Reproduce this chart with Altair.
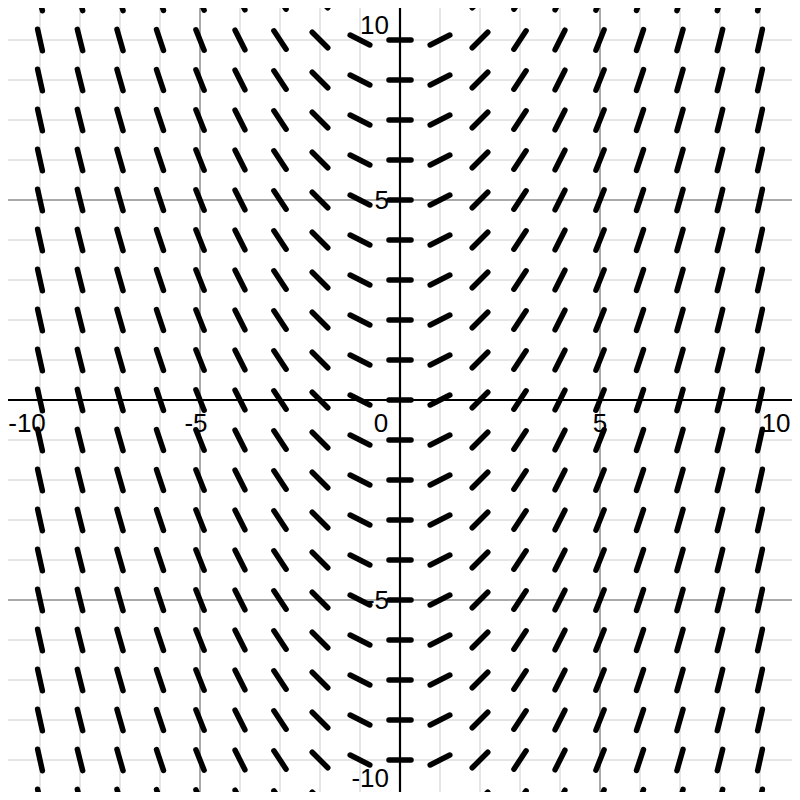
import altair as alt
import pandas as pd

# Slope field dy/dx: slope of each column of segments
col_x = [-10, -9, -8, -7, -6, -5, -4, -3, -2, -1, 0, 1, 2, 3, 4, 5, 6, 7, 8, 9, 10]
col_slope = [-5.0, -4.5, -4.0, -3.5, -3.0, -2.5, -2.0, -1.5, -1.0, -0.5, 0.0,
             0.5, 1.0, 1.5, 2.0, 2.5, 3.0, 3.5, 4.0, 4.5, 5.0]
row_y = [-10, -9, -8, -7, -6, -5, -4, -3, -2, -1, 0, 1, 2, 3, 4, 5, 6, 7, 8, 9, 10]

minor_grid = [-9, -8, -7, -6, -4, -3, -2, -1, 1, 2, 3, 4, 6, 7, 8, 9]
major_grid = [-10, -5, 5, 10]

x_tick_vals = [-10, -5, 0, 5, 10]
x_tick_text = ["-10", "-5", "0", "5", "10"]
y_tick_vals = [10, 5, -5, -10]
y_tick_text = ["10", "5", "-5", "-10"]

rows = []
for xv, s in zip(col_x, col_slope):
    for yv in row_y:
        rows.append({"x": xv, "y": yv, "m": s})
seg_df = pd.DataFrame(rows)

xs = alt.Scale(domain=[-9.8, 9.8], nice=False, zero=False)
ys = alt.Scale(domain=[-9.8, 9.8], nice=False, zero=False)

minor_v = alt.Chart(pd.DataFrame({"v": minor_grid})).mark_rule(
    color="#cccccc", strokeWidth=1, clip=True).encode(x=alt.X("v:Q", scale=xs, axis=None))
minor_h = alt.Chart(pd.DataFrame({"v": minor_grid})).mark_rule(
    color="#cccccc", strokeWidth=1, clip=True).encode(y=alt.Y("v:Q", scale=ys, axis=None))
major_v = alt.Chart(pd.DataFrame({"v": major_grid})).mark_rule(
    color="#8c8c8c", strokeWidth=1.5, clip=True).encode(x=alt.X("v:Q", scale=xs, axis=None))
major_h = alt.Chart(pd.DataFrame({"v": major_grid})).mark_rule(
    color="#8c8c8c", strokeWidth=1.5, clip=True).encode(y=alt.Y("v:Q", scale=ys, axis=None))
axis_v = alt.Chart(pd.DataFrame({"v": [0]})).mark_rule(
    color="#000000", strokeWidth=2.2).encode(x=alt.X("v:Q", scale=xs, axis=None))
axis_h = alt.Chart(pd.DataFrame({"v": [0]})).mark_rule(
    color="#000000", strokeWidth=2.2).encode(y=alt.Y("v:Q", scale=ys, axis=None))

L = 0.275
segs = alt.Chart(seg_df).transform_calculate(
    d=f"{L} / sqrt(1 + datum.m * datum.m)"
).transform_calculate(
    x1="datum.x - datum.d", x2="datum.x + datum.d",
    y1="datum.y - datum.m * datum.d", y2="datum.y + datum.m * datum.d"
).mark_rule(color="#000000", strokeWidth=5.5, strokeCap="round", clip=True).encode(
    x=alt.X("x1:Q", scale=xs, axis=None), x2="x2:Q",
    y=alt.Y("y1:Q", scale=ys, axis=None), y2="y2:Q")

FONT = "Liberation Sans"
FS = 26

def xlabel(i, dx):
    return alt.Chart(pd.DataFrame({"v": [x_tick_vals[i]], "z": [0], "t": [x_tick_text[i]]})).mark_text(
        font=FONT, fontSize=FS, color="#000000", align="center", baseline="alphabetic",
        dx=dx, dy=32).encode(
        x=alt.X("v:Q", scale=xs, axis=None), y=alt.Y("z:Q", scale=ys, axis=None), text="t:N")

def ylabel(i, dy):
    return alt.Chart(pd.DataFrame({"v": [y_tick_vals[i]], "z": [0], "t": [y_tick_text[i]]})).mark_text(
        font=FONT, fontSize=FS, color="#000000", align="right", baseline="alphabetic",
        dx=-11, dy=dy).encode(
        y=alt.Y("v:Q", scale=ys, axis=None), x=alt.X("z:Q", scale=xs, axis=None), text="t:N")

labels = [
    xlabel(0, 27), xlabel(1, -4), xlabel(2, -19), xlabel(3, 0), xlabel(4, -24),
    ylabel(0, 34), ylabel(1, 9), ylabel(2, 9), ylabel(3, -13),
]

chart = alt.layer(
    minor_v, minor_h, major_v, major_h, axis_v, axis_h, segs, *labels
).properties(
    width=784, height=784, padding=0,
    autosize=alt.AutoSizeParams(type="none"),
    background="#ffffff",
).configure_view(stroke=None)

chart.save("out.html", embed_options={"renderer": "svg", "actions": False})
